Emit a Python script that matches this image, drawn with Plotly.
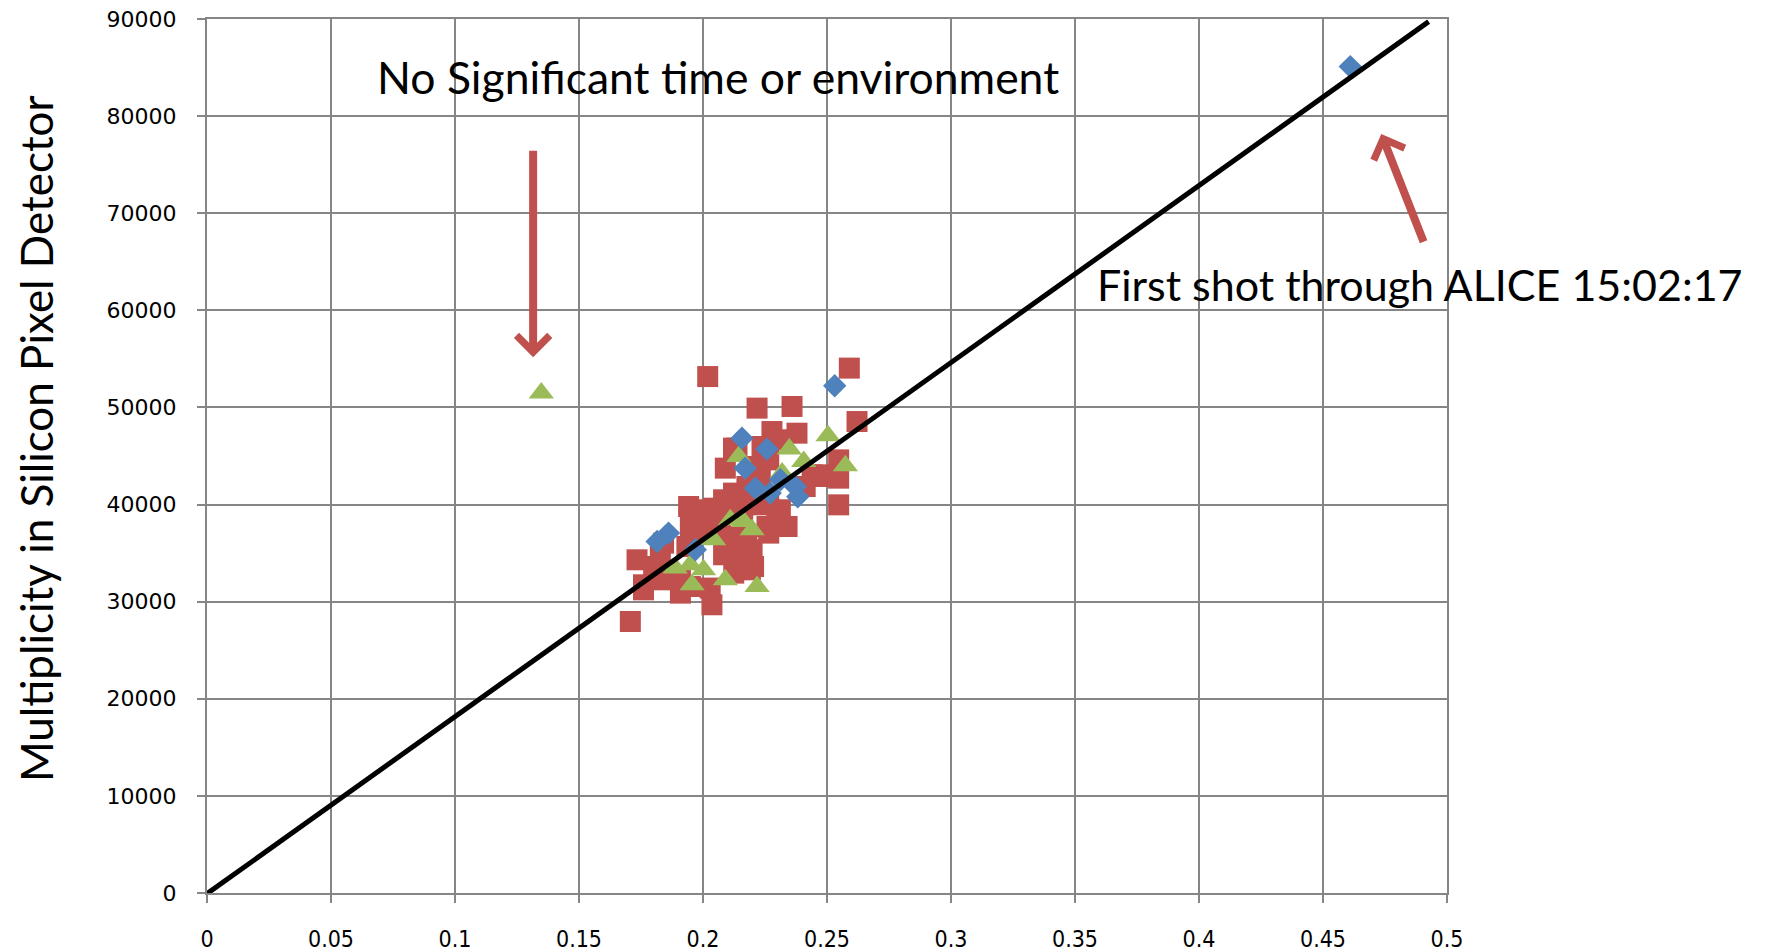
import plotly.graph_objects as go

# ---- data ----
blue_x = [0.461, 0.2531, 0.2157, 0.2258, 0.217, 0.2211, 0.2271, 0.2312, 0.2372, 0.2382, 0.1861, 0.1815, 0.1969]
blue_y = [85100, 52230, 46840, 45710, 43750, 41690, 41180, 42550, 41860, 40800, 37060, 36200, 35340]

red_x = [0.2019, 0.259, 0.2218, 0.2359, 0.2621, 0.2379, 0.2278, 0.2305, 0.2238, 0.2123,
         0.2137, 0.209, 0.2218, 0.2265, 0.2211, 0.2547, 0.2493, 0.244, 0.2547, 0.2473,
         0.2231, 0.2412, 0.2177, 0.2123, 0.2083, 0.2547, 0.1942, 0.2043, 0.2123, 0.2016,
         0.2231, 0.2312, 0.2298, 0.2339, 0.2258, 0.2332, 0.2265, 0.1949, 0.2016, 0.2137,
         0.2177, 0.2198, 0.1935, 0.1828, 0.1734, 0.2083, 0.2097, 0.2150, 0.1801, 0.2137,
         0.2204, 0.2191, 0.2124, 0.1841, 0.1760, 0.1760, 0.1909, 0.2029, 0.1949, 0.1909,
         0.2036, 0.1707, 0.1841, 0.2060, 0.2265, 0.2200, 0.2160, 0.2070]
red_y = [53180, 54050, 49930, 50100, 48550, 47350, 47520, 46670, 45980, 45810,
         45810, 43750, 43750, 44600, 43920, 44600, 43060, 43060, 42720, 42890,
         42720, 41860, 41860, 41180, 40490, 39970, 39800, 39630, 39800, 39460,
         39970, 39460, 38430, 37740, 37740, 37740, 37060, 37740, 37400, 36710,
         36030, 35340, 35680, 34650, 34310, 34830, 35000, 34650, 33620, 33620,
         33620, 33280, 32940, 32250, 31740, 31220, 32250, 31400, 31560, 30880,
         29680, 27960, 36030, 38100, 40300, 40800, 38900, 37000]

green_x = [0.1348, 0.2144, 0.2504, 0.2348, 0.2406, 0.2574, 0.2319, 0.2198, 0.211, 0.2043,
           0.1888, 0.1949, 0.2002, 0.1956, 0.209, 0.2218, 0.2164]
green_y = [51500, 44950, 47080, 45710, 44430, 43990, 43240, 37400, 38430, 36370,
           33460, 33800, 33280, 31740, 32250, 31560, 38250]

line_x = [-0.0034, 0.4926]
line_y = [-690, 89730]

x_ticks = [0, 0.05, 0.1, 0.15, 0.2, 0.25, 0.3, 0.35, 0.4, 0.45, 0.5]
x_tick_text = ["0", "0.05", "0.1", "0.15", "0.2", "0.25", "0.3", "0.35", "0.4", "0.45", "0.5"]
y_ticks = [0, 10000, 20000, 30000, 40000, 50000, 60000, 70000, 80000, 90000]
y_tick_text = [str(v) for v in y_ticks]

y_title = "Multiplicity in Silicon Pixel Detector"
note1 = "No Significant time or environment"
note1_pos = (0.2062, 84030)
note2 = "First shot through ALICE 15:02:17"
note2_pos = (0.4892, 62620)
arrow1 = dict(tip=(0.1315, 55180), tail=(0.1315, 76600))
arrow2 = dict(tip=(0.4735, 78165), tail=(0.4908, 66910))

BLUE = "#4F81BD"
RED = "#C0504D"
GREEN = "#9BBB59"
GRID = "#868686"

fig = go.Figure()
fig.add_trace(go.Scatter(x=red_x, y=red_y, mode="markers",
                         marker=dict(symbol="square", size=21, color=RED), cliponaxis=False))
fig.add_trace(go.Scatter(x=green_x, y=green_y, mode="markers",
                         marker=dict(symbol="triangle-up", size=22, color=GREEN), cliponaxis=False))
fig.add_trace(go.Scatter(x=blue_x, y=blue_y, mode="markers",
                         marker=dict(symbol="diamond", size=18, color=BLUE), cliponaxis=False))
fig.add_trace(go.Scatter(x=line_x, y=line_y, mode="lines",
                         line=dict(color="black", width=5)))

annotations = [
    dict(x=note1_pos[0], y=note1_pos[1], xref="x", yref="y", text=note1, showarrow=False,
         font=dict(family="Lato, Open Sans, sans-serif", size=44.5, color="black")),
    dict(x=note2_pos[0], y=note2_pos[1], xref="x", yref="y", text=note2, showarrow=False,
         font=dict(family="Lato, Open Sans, sans-serif", size=43, color="black")),
    dict(x=-0.1377, y=0.5196, xref="paper", yref="paper", text=y_title, showarrow=False,
         textangle=-90, xanchor="center", yanchor="middle",
         font=dict(family="Lato, Open Sans, sans-serif", size=44, color="black")),
]
for a in (arrow1, arrow2):
    annotations.append(dict(x=a["tip"][0], y=a["tip"][1], ax=a["tail"][0], ay=a["tail"][1],
                            xref="x", yref="y", axref="x", ayref="y", text="",
                            showarrow=True, arrowhead=4, arrowwidth=8, arrowsize=0.8,
                            arrowcolor=RED, standoff=0))

fig.update_layout(
    width=1766, height=952,
    margin=dict(l=199, r=327, t=11, b=67, autoexpand=False),
    plot_bgcolor="white", paper_bgcolor="white",
    showlegend=False,
    annotations=annotations,
)
fig.update_xaxes(range=[0, 0.5], tickvals=x_ticks, ticktext=x_tick_text, automargin=False,
                 showgrid=True, gridcolor=GRID, gridwidth=2,
                 showline=True, linecolor=GRID, linewidth=2, mirror=True,
                 zeroline=False, ticks="outside", ticklen=8, tickcolor=GRID, tickwidth=2,
                 ticklabelstandoff=16, ticklabeloverflow="allow",
                 tickfont=dict(family="Liberation Sans Narrow, DejaVu Sans Condensed, Arial Narrow, sans-serif",
                               size=23, color="black"))
fig.update_yaxes(range=[0, 90000], tickvals=y_ticks, ticktext=y_tick_text, automargin=False,
                 showgrid=True, gridcolor=GRID, gridwidth=2,
                 showline=True, linecolor=GRID, linewidth=2, mirror=True,
                 zeroline=False, ticks="outside", ticklen=8, tickcolor=GRID, tickwidth=2,
                 ticklabelstandoff=16, ticklabeloverflow="allow",
                 tickfont=dict(family="DejaVu Sans, sans-serif", size=22, color="black"))

fig.write_html("out.html")
